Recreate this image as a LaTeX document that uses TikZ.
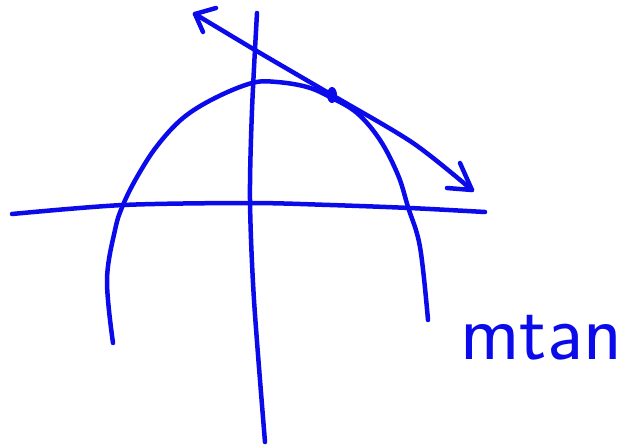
\documentclass[tikz,border=0pt]{standalone}
\usepackage{tikz}
\definecolor{penblue}{RGB}{10,10,235}
\begin{document}
\begin{tikzpicture}[x=1pt,y=-1pt,line width=4.5pt,line cap=round,line join=round]
\useasboundingbox (0,0) rectangle (634,445);
\draw[penblue] plot[smooth] coordinates {(12,214) (123,205) (250,203) (330,205) (410,208) (485,212)};
\draw[penblue] plot[smooth] coordinates {(257,13) (252,110) (250,200) (254,300) (265,442)};
\draw[penblue] plot[smooth,tension=0.6] coordinates {(113,343) (107,280) (115,230) (123,205) (137,177) (157,146) (183,118) (215,98) (252,83) (277,82) (307,87) (330,97) (357,113) (380,140) (398,175) (408,207) (420,247) (428,320)};
\coordinate (tp) at (332,95);
\draw[penblue] plot[smooth] coordinates {(195,14) (255,50) (tp) (413,143) (472,190)};
\draw[penblue] (216,8) -- (195,14) -- (203,32);
\draw[penblue] (460,163) -- (472,190) -- (447,188);
\fill[penblue] (tp) ellipse (5 and 8);
\node[penblue,inner sep=0pt] (lbl) at (541,338) {\fontsize{80}{80}\selectfont\sffamily mtan};
\end{tikzpicture}
\end{document}
